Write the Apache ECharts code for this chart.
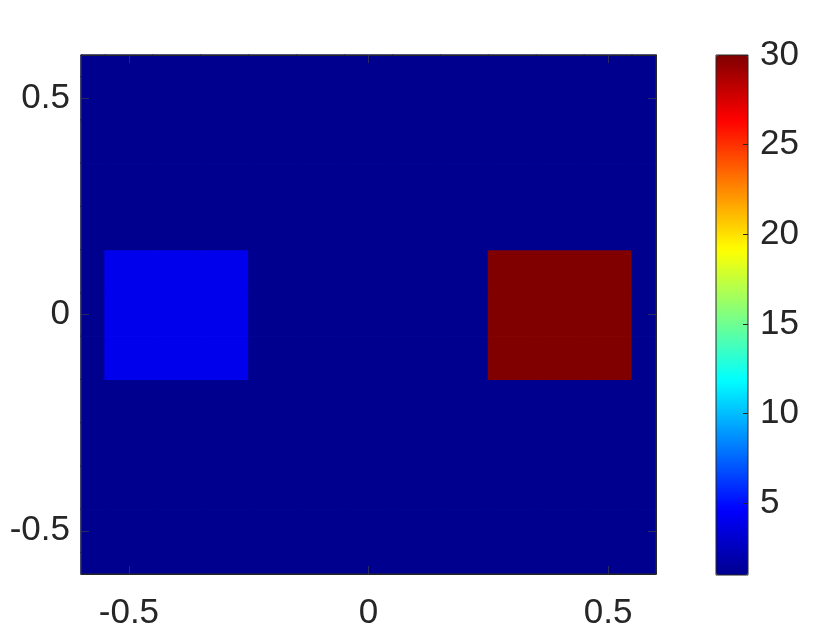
<!DOCTYPE html>
<html>
<head>
<meta charset="utf-8">
<script src="https://cdn.jsdelivr.net/npm/echarts@6/dist/echarts.min.js"></script>
<style>
html,body{margin:0;padding:0;background:#fff;}
#chart{width:819px;height:631px;}
</style>
</head>
<body>
<div id="chart"></div>
<script>
// Cell centres of the image grid (step 0.1)
const xCenters = [-0.6,-0.5,-0.4,-0.3,-0.2,-0.1,0,0.1,0.2,0.3,0.4,0.5,0.6];
const yCenters = [-0.6,-0.5,-0.4,-0.3,-0.2,-0.1,0,0.1,0.2,0.3,0.4,0.5,0.6];
// values[row = y index][col = x index]
const values = [
  [1,1,1,1,1,1,1,1,1,1,1,1,1],
  [1,1,1,1,1,1,1,1,1,1,1,1,1],
  [1,1,1,1,1,1,1,1,1,1,1,1,1],
  [1,1,1,1,1,1,1,1,1,1,1,1,1],
  [1,1,1,1,1,1,1,1,1,1,1,1,1],
  [1,4,4,4,1,1,1,1,1,30,30,30,1],
  [1,4,4,4,1,1,1,1,1,30,30,30,1],
  [1,4,4,4,1,1,1,1,1,30,30,30,1],
  [1,1,1,1,1,1,1,1,1,1,1,1,1],
  [1,1,1,1,1,1,1,1,1,1,1,1,1],
  [1,1,1,1,1,1,1,1,1,1,1,1,1],
  [1,1,1,1,1,1,1,1,1,1,1,1,1],
  [1,1,1,1,1,1,1,1,1,1,1,1,1]
];
const axisTicks = [-0.5, 0, 0.5];
const colorbarTicks = [5, 10, 15, 20, 25, 30];
const colorMin = 1, colorMax = 30;
const axisMin = -0.6, axisMax = 0.6;
const jet = ['#00008f','#0000ff','#0080ff','#00ffff','#80ff80','#ffff00','#ff8000','#ff0000','#800000'];

const data = [];
yCenters.forEach((y, i) => xCenters.forEach((x, j) => data.push([x, y, values[i][j]])));
const hx = (xCenters[1] - xCenters[0]) / 2;
const hy = (yCenters[1] - yCenters[0]) / 2;

const txt = '#262626';
const font = "'Liberation Sans', Arial, Helvetica, sans-serif";
const fs = 35;

function mainAxis(extra) {
  return Object.assign({
    type: 'value', min: axisMin, max: axisMax, gridIndex: 0,
    splitLine: {show: false},
    axisLine: {show: true, onZero: false, lineStyle: {color: txt, width: 1}},
    axisTick: {show: true, inside: true, length: 8, customValues: axisTicks, lineStyle: {color: '#2a2a60', width: 1}},
    axisLabel: {show: true, customValues: axisTicks, color: txt, fontFamily: font, fontSize: fs},
    z: 6
  }, extra);
}

const chart = echarts.init(document.getElementById('chart'));
chart.setOption({
  animation: false,
  backgroundColor: '#fff',
  grid: [
    {left: 81, top: 55, width: 575, height: 520, show: true, borderColor: txt, borderWidth: 1, backgroundColor: 'transparent', z: 5},
    {left: 716, top: 55, width: 32, height: 520, show: true, borderColor: txt, borderWidth: 1, backgroundColor: 'transparent', z: 5}
  ],
  xAxis: [
    mainAxis({position: 'bottom', axisLabel: {customValues: axisTicks, color: txt, fontFamily: font, fontSize: fs, margin: 22}}),
    mainAxis({position: 'top', axisLabel: {show: false}}),
    {type: 'value', gridIndex: 1, min: 0, max: 1, show: false}
  ],
  yAxis: [
    mainAxis({position: 'left', axisLabel: {customValues: axisTicks, color: txt, fontFamily: font, fontSize: fs, margin: 11}}),
    mainAxis({position: 'right', axisLabel: {show: false}}),
    {
      type: 'value', gridIndex: 1, min: colorMin, max: colorMax, position: 'right',
      splitLine: {show: false},
      axisLine: {show: false, onZero: false},
      axisTick: {show: true, inside: true, length: 5, customValues: colorbarTicks, lineStyle: {color: txt, width: 1}},
      axisLabel: {customValues: colorbarTicks, color: txt, fontFamily: font, fontSize: fs, margin: 12},
      z: 6
    }
  ],
  visualMap: {
    type: 'continuous', min: colorMin, max: colorMax, dimension: 2, seriesIndex: 0,
    calculable: false, hoverLink: false, realtime: false,
    left: 716, top: 55, itemWidth: 32, itemHeight: 520, padding: 0,
    orient: 'vertical', inRange: {color: jet}, z: 2
  },
  series: [{
    type: 'custom',
    xAxisIndex: 0, yAxisIndex: 0,
    data: data,
    encode: {x: 0, y: 1},
    renderItem: function (params, api) {
      const x = api.value(0), y = api.value(1);
      const p1 = api.coord([x - hx, y + hy]);
      const p2 = api.coord([x + hx, y - hy]);
      const rect = echarts.graphic.clipRectByRect(
        {x: p1[0], y: p1[1], width: p2[0] - p1[0], height: p2[1] - p1[1]},
        {x: params.coordSys.x, y: params.coordSys.y, width: params.coordSys.width, height: params.coordSys.height}
      );
      if (!rect) return;
      const c = api.visual('color');
      return {type: 'rect', shape: rect, style: {fill: c, stroke: c, lineWidth: 1.2}};
    }
  }]
});
</script>
</body>
</html>
